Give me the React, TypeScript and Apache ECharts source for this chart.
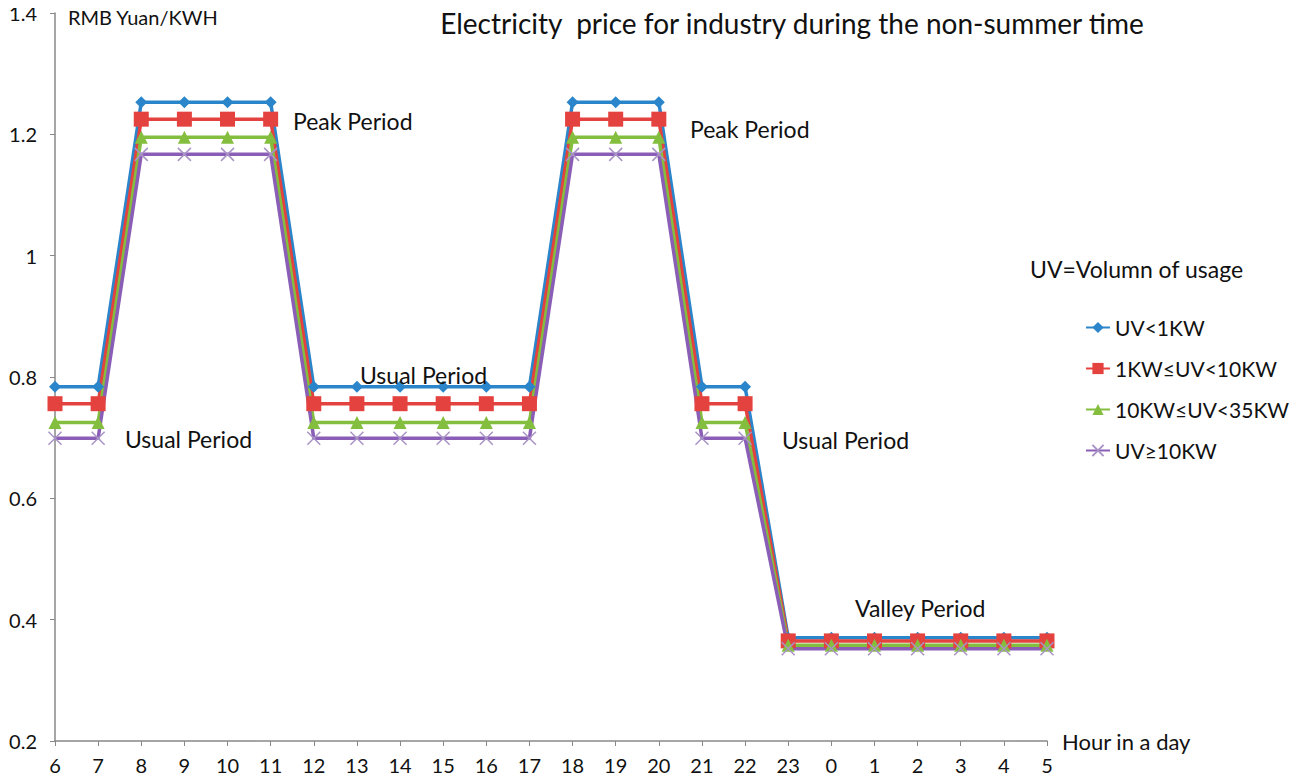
import React, { useEffect, useRef } from "react";
import * as echarts from "echarts";

const hours = ["6","7","8","9","10","11","12","13","14","15","16","17","18","19","20","21","22","23","0","1","2","3","4","5"];
const seriesNames = ["UV<1KW", "1KW≤UV<10KW", "10KW≤UV<35KW", "UV≥10KW"];
const uvLt1 = [0.784,0.784,1.253,1.253,1.253,1.253,0.784,0.784,0.784,0.784,0.784,0.784,1.253,1.253,1.253,0.784,0.784,0.370,0.370,0.370,0.370,0.370,0.370,0.370];
const uv1to10 = [0.756,0.756,1.225,1.225,1.225,1.225,0.756,0.756,0.756,0.756,0.756,0.756,1.225,1.225,1.225,0.756,0.756,0.365,0.365,0.365,0.365,0.365,0.365,0.365];
const uv10to35 = [0.725,0.725,1.195,1.195,1.195,1.195,0.725,0.725,0.725,0.725,0.725,0.725,1.195,1.195,1.195,0.725,0.725,0.358,0.358,0.358,0.358,0.358,0.358,0.358];
const uvGe10 = [0.699,0.699,1.167,1.167,1.167,1.167,0.699,0.699,0.699,0.699,0.699,0.699,1.167,1.167,1.167,0.699,0.699,0.352,0.352,0.352,0.352,0.352,0.352,0.352];

const colors = ["#2A85CA", "#E4423F", "#84BE3E", "#8A5DB6"];
const FONT = "Lato, 'Open Sans', sans-serif";

export default function App() {
  const ref = useRef<HTMLDivElement>(null);
  useEffect(() => {
    if (!ref.current) return;
    const chart = echarts.init(ref.current, null, { renderer: "svg" });
    const xPath = "path://M0,0L10,10M10,0L0,10";
    const data = [uvLt1, uv1to10, uv10to35, uvGe10];
    const symbols = ["diamond", "rect", "triangle", xPath];
    const sizes = [12, 15, 13, 13];
    const annSize = 23;
    const annotations = [
      { x: 293, y: 123, t: "Peak Period" },
      { x: 125, y: 441, t: "Usual Period" },
      { x: 360, y: 377, t: "Usual Period" },
      { x: 690, y: 131, t: "Peak Period" },
      { x: 782, y: 442, t: "Usual Period" },
      { x: 855, y: 610, t: "Valley Period" },
    ];
    chart.setOption({
      animation: false,
      backgroundColor: "#ffffff",
      title: {
        text: "Electricity  price for industry during the non-summer time",
        left: 792,
        top: 9,
        padding: 0,
        textAlign: "center",
        textStyle: { fontFamily: FONT, fontSize: 28, fontWeight: "normal", color: "#111" },
      },
      grid: { left: 55, right: 256, top: 13, bottom: 42, containLabel: false },
      legend: {
        orient: "vertical",
        left: 1085,
        top: 317,
        padding: 0,
        itemGap: 20,
        itemWidth: 24,
        itemHeight: 14,
        data: seriesNames,
        textStyle: { fontFamily: FONT, fontSize: 21, color: "#111" },
      },
      xAxis: {
        type: "category",
        data: hours,
        boundaryGap: false,
        name: "Hour in a day",
        nameLocation: "end",
        nameGap: 15,
        nameTextStyle: { fontFamily: FONT, fontSize: 22, color: "#111" },
        axisLine: { lineStyle: { color: "#888", width: 1.5 } },
        axisTick: { alignWithLabel: true, length: 5, lineStyle: { color: "#888" }, interval: 0 },
        axisLabel: { fontFamily: FONT, fontSize: 20, color: "#111", margin: 14, interval: 0 },
        splitLine: { show: false },
      },
      yAxis: {
        type: "value",
        min: 0.2,
        max: 1.4,
        interval: 0.2,
        axisLine: { show: true, lineStyle: { color: "#888", width: 1.5 } },
        axisTick: { show: true, length: 5, lineStyle: { color: "#888" } },
        axisLabel: { fontFamily: FONT, fontSize: 20, color: "#111", margin: 18 },
        splitLine: { show: false },
      },
      graphic: [
        {
          type: "text",
          left: 68,
          top: 7,
          style: { text: "RMB Yuan/KWH", fontFamily: FONT, fontSize: 20, fill: "#111" },
        },
        {
          type: "text",
          left: 1030,
          top: 257,
          style: { text: "UV=Volumn of usage", fontFamily: FONT, fontSize: 23, fill: "#111" },
        },
        ...annotations.map((a) => ({
          type: "text",
          left: a.x,
          top: a.y - annSize * 0.6,
          z: 100,
          style: { text: a.t, fontFamily: FONT, fontSize: annSize, fill: "#111" },
        })),
      ],
      series: seriesNames.map((name, i) => ({
        name,
        type: "line",
        data: data[i],
        symbol: symbols[i],
        symbolSize: sizes[i],
        showAllSymbol: true,
        lineStyle: { color: colors[i], width: 3.5 },
        itemStyle:
          i === 3
            ? { color: "rgba(0,0,0,0)", borderColor: "#A993C6", borderWidth: 1.5 }
            : { color: colors[i], borderColor: colors[i], borderWidth: 0 },
        emphasis: { disabled: true },
      })),
    });
    return () => chart.dispose();
  }, []);
  return <div ref={ref} style={{ width: 1303, height: 783, margin: "-8px 0 0 -8px" }} />;
}
